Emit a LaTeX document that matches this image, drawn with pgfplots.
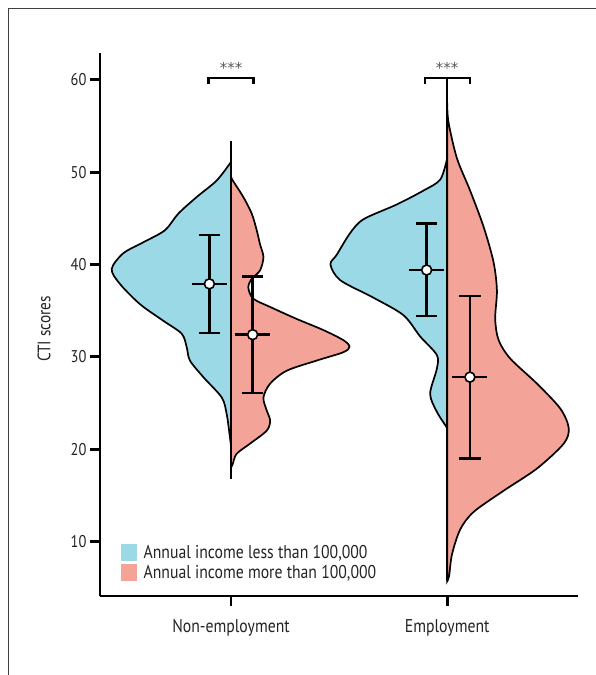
\documentclass[border=0pt]{standalone}
\usepackage{fontspec}
\setmainfont{PT Sans}[FakeStretch=0.85]
\newfontfamily\astfont{DejaVu Sans}
\usepackage{pgfplots}
\pgfplotsset{compat=1.18}
\definecolor{blueC}{RGB}{154,217,229}
\definecolor{pinkC}{RGB}{244,163,152}
\definecolor{txt}{RGB}{35,35,35}
\begin{document}
\begin{tikzpicture}[x=1pt,y=1pt]
\path[use as bounding box] (0,0) rectangle (596,675);
\draw[black!75, line width=1pt] (8,0) -- (8,666) -- (596,666);
\begin{axis}[
  at={(100pt,79pt)}, anchor=south west, scale only axis,
  width=478pt, height=543pt,
  xmin=0.394, xmax=2.605, ymin=4.1, ymax=62.9,
  axis x line*=bottom, axis y line*=left,
  axis line style={line width=2.8pt, -},
  xtick={1,2}, xticklabels={Non-employment, Employment},
  ytick={10,20,30,40,50,60},
  tick align=outside, major tick length=10pt,
  tick style={line width=2.8pt, black},
  /pgf/number format/assume math mode=true,
  yticklabel style={font=\fontsize{17}{20}\selectfont, text=txt},
  xticklabel style={font=\fontsize{18.5}{22}\selectfont, text=txt, yshift=-10pt},
  ylabel={CTI scores},
  ylabel style={font=\fontsize{18}{22}\selectfont, text=txt, at={(axis description cs:-0.117,0.492)}, anchor=center},
  clip=false,
  legend cell align=left,
  legend style={at={(axis description cs:0.044,0.0976)}, anchor=north west, draw=none, fill=none, inner sep=0pt, row sep=1pt, font=\fontsize{18.5}{20}\selectfont, text=txt},
]
\addlegendimage{legend image code/.code={\fill[blueC] (0pt,-8pt) rectangle (15pt,8pt);}}
\addlegendentry{\hspace{5pt}Annual income less than 100,000}
\addlegendimage{legend image code/.code={\fill[pinkC] (0pt,-8pt) rectangle (15pt,8pt);}}
\addlegendentry{\hspace{5pt}Annual income more than 100,000}

% Non-employment, lower income (left half)
\addplot[fill=blueC, draw=black, line width=1.7pt, smooth, forget plot] coordinates {
(1.000,51.1) (0.934,49.1) (0.841,47.3) (0.756,45.5) (0.694,43.7) (0.594,42.4) (0.501,41.2) (0.448,39.5) (0.486,37.9) (0.579,35.7) (0.687,33.9) (0.772,32.5) (0.795,31.05) (0.810,29.6) (0.872,27.8) (0.957,25.6) (0.980,23.8) (0.995,21.3) (1.000,20.3)
} -- cycle;
% Non-employment, higher income (right half)
\addplot[fill=pinkC, draw=black, line width=1.7pt, smooth, forget plot] coordinates {
(1.000,49.5) (1.008,49.1) (1.057,47.3) (1.096,45.5) (1.119,43.7) (1.134,42.2) (1.150,40.8) (1.134,39.35) (1.096,38.45) (1.080,37.5) (1.103,36.3) (1.181,35.4) (1.304,34.1) (1.427,32.9) (1.520,31.8) (1.548,31.1) (1.520,30.5) (1.397,29.6) (1.258,28.5) (1.181,27.1) (1.150,25.6) (1.165,24.2) (1.181,23.1) (1.165,22.0) (1.088,20.6) (1.026,19.5) (1.008,18.4) (1.000,18.0)
} -- cycle;
% Employment, lower income (left half)
\addplot[fill=blueC, draw=black, line width=1.7pt, smooth, forget plot] coordinates {
(2.000,51.5) (1.968,49.2) (1.890,48.0) (1.767,46.5) (1.613,44.9) (1.551,43.4) (1.489,41.05) (1.460,40.0) (1.505,38.3) (1.659,36.4) (1.798,34.5) (1.875,32.2) (1.952,30.2) (1.952,28.7) (1.921,26.0) (1.952,24.05) (1.999,22.3) (2.000,22.0)
} -- cycle;
% Employment, higher income (right half)
\addplot[fill=pinkC, draw=black, line width=1.7pt, smooth, forget plot] coordinates {
(2.000,57.5) (2.006,55.4) (2.045,51.5) (2.106,48.0) (2.168,44.1) (2.214,40.3) (2.230,37.2) (2.222,34.1) (2.238,31.8) (2.292,29.8) (2.415,27.1) (2.523,24.4) (2.562,22.3) (2.539,20.6) (2.415,17.9) (2.261,15.5) (2.122,13.2) (2.060,11.3) (2.022,8.6) (2.009,6.3) (2.000,5.7)
} -- cycle;

% centre lines
\addplot[black, line width=1.8pt, forget plot] coordinates {(1,16.8) (1,53.4)};
\addplot[black, line width=1.8pt, forget plot] coordinates {(2,5.7) (2,60.2)};

% error bars: vertical lines
\addplot[black, line width=2.6pt, forget plot] coordinates {(0.900,32.6) (0.900,43.2)};
\addplot[black, line width=2.6pt, forget plot] coordinates {(1.100,26.1) (1.100,38.7)};
\addplot[black, line width=2.6pt, forget plot] coordinates {(1.905,34.4) (1.905,44.45)};
\addplot[black, line width=2.6pt, forget plot] coordinates {(2.105,19.0) (2.105,36.6)};
% caps
\addplot[black, line width=2.6pt, forget plot] coordinates {(0.850,43.2) (0.950,43.2)};
\addplot[black, line width=2.6pt, forget plot] coordinates {(0.850,32.6) (0.950,32.6)};
\addplot[black, line width=2.6pt, forget plot] coordinates {(1.050,38.7) (1.150,38.7)};
\addplot[black, line width=2.6pt, forget plot] coordinates {(1.050,26.1) (1.150,26.1)};
\addplot[black, line width=2.6pt, forget plot] coordinates {(1.855,44.45) (1.955,44.45)};
\addplot[black, line width=2.6pt, forget plot] coordinates {(1.855,34.4) (1.955,34.4)};
\addplot[black, line width=2.6pt, forget plot] coordinates {(2.055,36.6) (2.155,36.6)};
\addplot[black, line width=2.6pt, forget plot] coordinates {(2.055,19.0) (2.155,19.0)};
% mean lines
\addplot[black, line width=2.6pt, forget plot] coordinates {(0.819,37.9) (0.981,37.9)};
\addplot[black, line width=2.6pt, forget plot] coordinates {(1.019,32.4) (1.181,32.4)};
\addplot[black, line width=2.6pt, forget plot] coordinates {(1.824,39.4) (1.986,39.4)};
\addplot[black, line width=2.6pt, forget plot] coordinates {(2.024,27.8) (2.186,27.8)};
% mean markers
\addplot[only marks, mark=*, mark size=5pt, mark options={fill=white, draw=black, line width=1.6pt}, forget plot] coordinates {(0.900,37.9) (1.100,32.4) (1.905,39.4) (2.105,27.8)};

% significance brackets
\addplot[black, line width=2.6pt, line join=miter, forget plot] coordinates {(0.895,59.5) (0.895,60.2) (1.105,60.2) (1.105,59.5)};
\addplot[black, line width=2.6pt, line join=miter, forget plot] coordinates {(1.898,59.5) (1.898,60.2) (2.105,60.2) (2.105,59.5)};
\node[text=black!65, font=\astfont\fontsize{15}{16}\selectfont, anchor=center, inner sep=0pt] at (axis cs:1.0,61.3) {***};
\node[text=black!65, font=\astfont\fontsize{15}{16}\selectfont, anchor=center, inner sep=0pt] at (axis cs:2.0,61.3) {***};
\end{axis}
\end{tikzpicture}
\end{document}
